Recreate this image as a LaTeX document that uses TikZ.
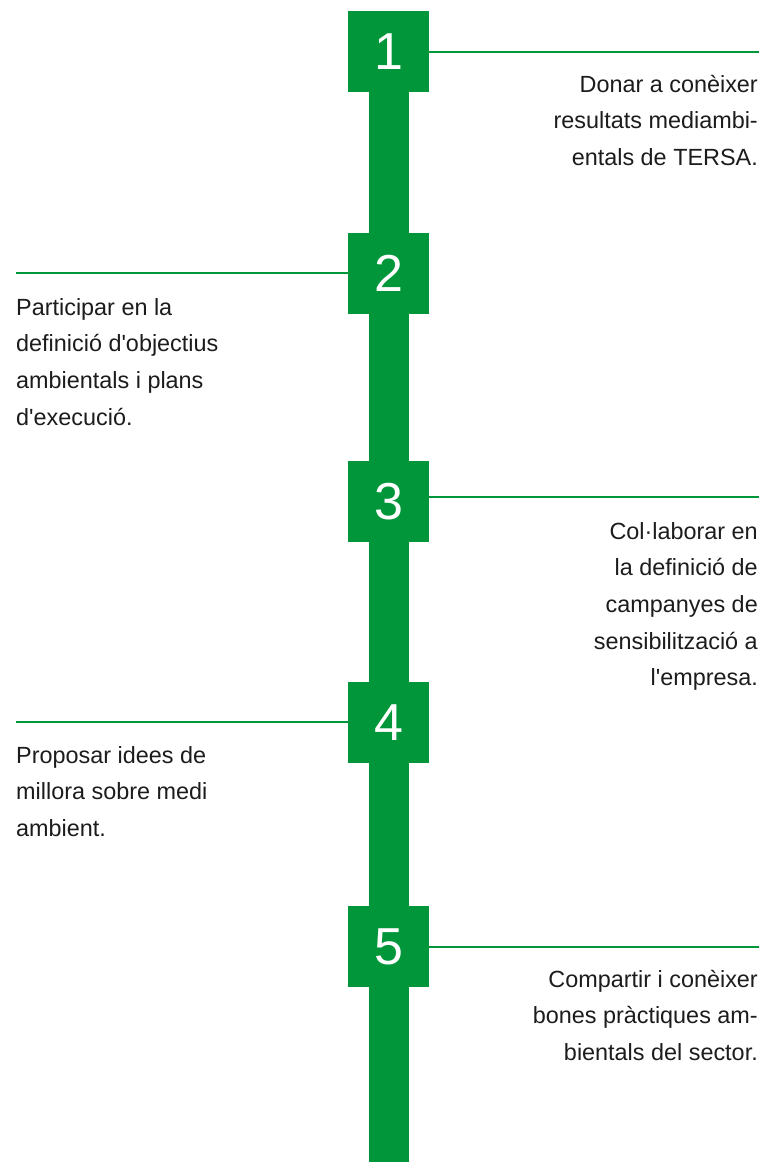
\documentclass[tikz,border=0pt]{standalone}
\usepackage{fontspec}
\setmainfont{Liberation Sans}[Ligatures=TeXOff]
\definecolor{tgreen}{RGB}{0,150,57}
\definecolor{ttext}{RGB}{28,28,28}
\begin{document}
\begin{tikzpicture}[x=1pt,y=-1pt,
  numbox/.style={fill=tgreen, minimum size=81pt, inner sep=0pt, text=white,
                 font=\fontsize{52}{52}\selectfont},
  link/.style={draw=tgreen, line width=1.2pt},
  spine/.style={draw=tgreen, line width=40pt},
  desc/.style={text=ttext, inner sep=0pt, font=\fontsize{23.4}{36.7}\selectfont}]
\useasboundingbox[fill=white] (0,0) rectangle (759,1162);
% spine
\coordinate (top) at (389,92);
\coordinate (bottom) at (389,1162);
\draw[spine] (top) -- (bottom);
% boxes
\node[numbox] (b1) at (388.5,51.5) {1};
\node[numbox] (b2) at (388.5,273.5) {2};
\node[numbox] (b3) at (388.5,501.5) {3};
\node[numbox] (b4) at (388.5,722.5) {4};
\node[numbox] (b5) at (388.5,946.5) {5};
% connector ends
\coordinate (e1) at (759,52);
\coordinate (e2) at (16,273);
\coordinate (e3) at (759,497);
\coordinate (e4) at (16,722);
\coordinate (e5) at (759,947);
\draw[link] (b1.east |- e1) -- (e1);
\draw[link] (b2.west |- e2) -- (e2);
\draw[link] (b3.east |- e3) -- (e3);
\draw[link] (b4.west |- e4) -- (e4);
\draw[link] (b5.east |- e5) -- (e5);
% texts
\node[desc, anchor=base east] (t1) at (758,92)
  {\begin{tabular}[t]{@{}r@{}}Donar a conèixer\\resultats mediambi-\\entals de TERSA.\end{tabular}};
\node[desc, anchor=base west] (t2) at (16,315)
  {\begin{tabular}[t]{@{}l@{}}Participar en la\\definició d'objectius\\ambientals i plans\\d'execució.\end{tabular}};
\node[desc, anchor=base east] (t3) at (758,539)
  {\begin{tabular}[t]{@{}r@{}}Col·laborar en\\la definició de\\campanyes de\\sensibilització a\\l'empresa.\end{tabular}};
\node[desc, anchor=base west] (t4) at (16,763)
  {\begin{tabular}[t]{@{}l@{}}Proposar idees de\\millora sobre medi\\ambient.\end{tabular}};
\node[desc, anchor=base east] (t5) at (758,987)
  {\begin{tabular}[t]{@{}r@{}}Compartir i conèixer\\bones pràctiques am-\\bientals del sector.\end{tabular}};
\end{tikzpicture}
\end{document}
